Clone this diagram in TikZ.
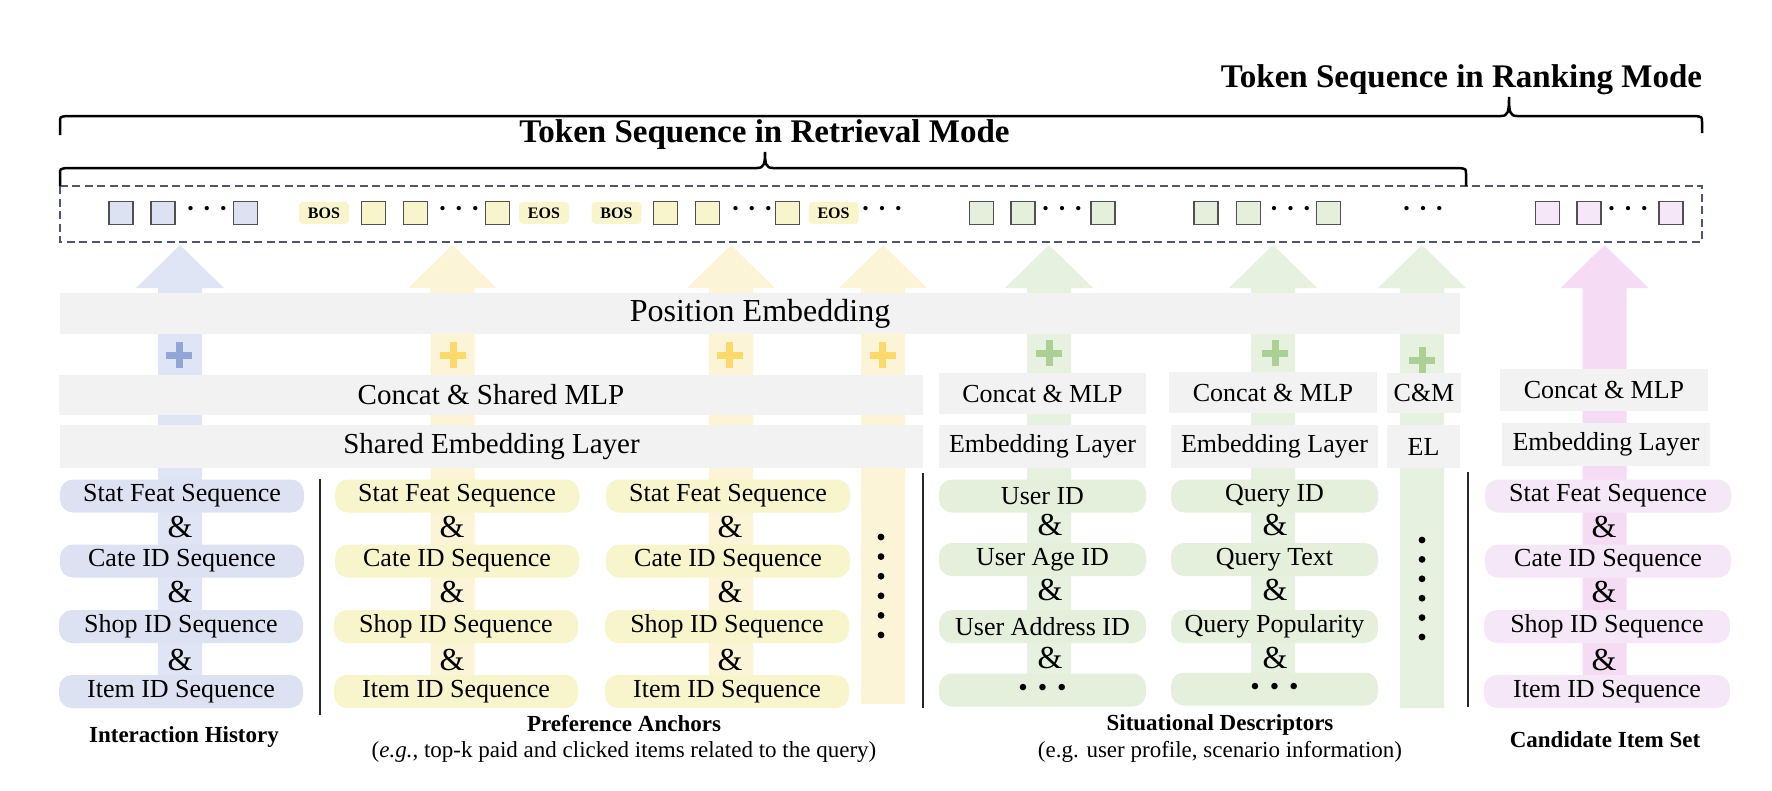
\documentclass[tikz,border=0pt]{standalone}
\usepackage{fontspec}
\setmainfont{Liberation Serif}
\definecolor{bluebox}{HTML}{DCE2F2}
\definecolor{bluearr}{HTML}{DFE5F4}
\definecolor{blueplus}{HTML}{93A6D9}
\definecolor{yelbox}{HTML}{F8F4CC}
\definecolor{yelarr}{HTML}{FBF4D6}
\definecolor{yelplus}{HTML}{FBD96B}
\definecolor{grnbox}{HTML}{E5F0DC}
\definecolor{grnarr}{HTML}{E6F1DF}
\definecolor{grnplus}{HTML}{ACD094}
\definecolor{pnkbox}{HTML}{F6E7F8}
\definecolor{pnkarr}{HTML}{F5DCF4}
\definecolor{graybar}{HTML}{F2F2F2}
\definecolor{dashcol}{HTML}{4E5670}
\definecolor{tokborder}{HTML}{505050}
\newcommand{\myfs}[2]{\fontsize{#1}{#2}\selectfont}
\newcommand{\blockarr}[3]{\fill[#1] (#2-22,#3) -- (#2-22,288) -- (#2-44,288) -- (#2,245) -- (#2+44,288) -- (#2+22,288) -- (#2+22,#3) -- cycle;}
\newcommand{\plussign}[3]{\draw[#1, line width=7] (#2-13,#3) -- (#2+13,#3) (#2,#3-13) -- (#2,#3+13);}
\newcommand{\tokdots}{·\hspace{4.3pt}·\hspace{4.3pt}·}
\newcommand{\boxdots}{•\hspace{10pt}•\hspace{10pt}•}
\begin{document}
\begin{tikzpicture}[x=1pt,y=-1pt,
  bar/.style={fill=graybar, inner sep=0, font=\myfs{29}{32}},
  sbar/.style={fill=graybar, inner sep=0, font=\myfs{26}{30}},
  tok/.style={draw=tokborder, line width=1.3, minimum width=24, minimum height=23, inner sep=0},
  bos/.style={fill=yelbox, rounded corners=4, minimum width=50, minimum height=22, inner sep=0, font=\bfseries\myfs{16}{18}},
  tdots/.style={inner sep=0, font=\myfs{36}{36}},
  inbox/.style={rounded corners=13, inner sep=0, minimum height=33, font=\myfs{26}{30}},
  dotbox/.style={inbox, font=\myfs{27}{30}},
  amp/.style={inner sep=0, font=\myfs{32}{34}},
  titlefont/.style={inner sep=0, font=\bfseries\myfs{33}{36}},
  capb/.style={inner sep=0, font=\bfseries\myfs{23}{26}},
  capr/.style={inner sep=0, font=\myfs{23}{26}},
  bracepath/.style={line width=2.5},
  sep/.style={line width=1.5, draw=black!85}
]
\useasboundingbox (0,0) rectangle (1772,790);

% block arrows (background)
\blockarr{bluearr}{180}{700}
\blockarr{yelarr}{452.5}{700}
\blockarr{yelarr}{731}{700}
\blockarr{yelarr}{883}{704}
\blockarr{grnarr}{1049}{700}
\blockarr{grnarr}{1273}{700}
\blockarr{grnarr}{1422}{708}
\blockarr{pnkarr}{1604.5}{700}

% gray layers
\node[bar, font=\myfs{32}{34}, minimum width=1400, minimum height=41] (pos) at (760,313.5) {Position Embedding};
\node[bar, minimum width=864, minimum height=40] (cmlp) at (491,395) {Concat \& Shared MLP};
\node[bar, minimum width=863, minimum height=43] (semb) at (491.5,446.5) {Shared Embedding Layer};
\node[sbar, minimum width=207, minimum height=41] (cm1) at (1042.5,393.5) {Concat \& MLP};
\node[sbar, minimum width=208, minimum height=41] (cm2) at (1273,392.5) {Concat \& MLP};
\node[sbar, minimum width=74, minimum height=40] (cm3) at (1424,393) {C\&M};
\node[sbar, minimum width=208, minimum height=42] (cm4) at (1604,390) {Concat \& MLP};
\node[sbar, minimum width=207, minimum height=43] (el1) at (1042.5,446.5) {Embedding Layer};
\node[sbar, minimum width=207, minimum height=43] (el2) at (1274.5,446.5) {Embedding Layer};
\node[sbar, minimum width=73, minimum height=43] (el3) at (1423.5,446.5) {EL};
\node[sbar, minimum width=208, minimum height=43] (el4) at (1606,444.5) {Embedding Layer};

% plus signs
\plussign{blueplus}{179}{355}
\plussign{yelplus}{453}{355}
\plussign{yelplus}{729.5}{355}
\plussign{yelplus}{882.5}{355}
\plussign{grnplus}{1049}{353}
\plussign{grnplus}{1275}{353}
\plussign{grnplus}{1422}{360}

% interaction history
\node[inbox, fill=bluebox, minimum width=244] (ih1) at (182,496) {Stat Feat Sequence};
\node[inbox, fill=bluebox, minimum width=244] (ih2) at (182,561) {Cate ID Sequence};
\node[inbox, fill=bluebox, minimum width=244] (ih3) at (181,626.5) {Shop ID Sequence};
\node[inbox, fill=bluebox, minimum width=244] (ih4) at (181,691.5) {Item ID Sequence};
\node[amp] (iha1) at (180,527) {\&};
\node[amp] (iha2) at (180,592) {\&};
\node[amp] (iha3) at (180,660) {\&};

% preference anchors 1
\node[inbox, fill=yelbox, minimum width=244] (pa1) at (457,496) {Stat Feat Sequence};
\node[inbox, fill=yelbox, minimum width=244] (pa2) at (457,561) {Cate ID Sequence};
\node[inbox, fill=yelbox, minimum width=244] (pa3) at (456,626.5) {Shop ID Sequence};
\node[inbox, fill=yelbox, minimum width=244] (pa4) at (456,691.5) {Item ID Sequence};
\node[amp] (paa1) at (452,527) {\&};
\node[amp] (paa2) at (452,592) {\&};
\node[amp] (paa3) at (452,660) {\&};
% preference anchors 2
\node[inbox, fill=yelbox, minimum width=244] (pb1) at (728,496) {Stat Feat Sequence};
\node[inbox, fill=yelbox, minimum width=244] (pb2) at (728,561) {Cate ID Sequence};
\node[inbox, fill=yelbox, minimum width=244] (pb3) at (727,626.5) {Shop ID Sequence};
\node[inbox, fill=yelbox, minimum width=244] (pb4) at (727,691.5) {Item ID Sequence};
\node[amp] (pba1) at (730,527) {\&};
\node[amp] (pba2) at (730,592) {\&};
\node[amp] (pba3) at (730,660) {\&};
\foreach \i in {0,...,5} {\coordinate (pvd\i) at (881,537+19.6*\i); \fill (pvd\i) circle (3.4);}

% situational descriptors
\node[inbox, fill=grnbox, minimum width=207] (sd1) at (1042.5,496) {User ID};
\node[inbox, fill=grnbox, minimum width=207] (sd2) at (1042.5,559.5) {User Age ID};
\node[inbox, fill=grnbox, minimum width=207] (sd3) at (1042.5,626.5) {User Address ID};
\node[dotbox, fill=grnbox, minimum width=207] (sd4) at (1042.5,690) {\boxdots};
\node[amp] (sda1) at (1050,525) {\&};
\node[amp] (sda2) at (1050,590) {\&};
\node[amp] (sda3) at (1050,658) {\&};
\node[inbox, fill=grnbox, minimum width=207] (sq1) at (1274.5,496) {Query ID};
\node[inbox, fill=grnbox, minimum width=207] (sq2) at (1274.5,559.5) {Query Text};
\node[inbox, fill=grnbox, minimum width=207] (sq3) at (1274.5,626.5) {Query Popularity};
\node[dotbox, fill=grnbox, minimum width=207] (sq4) at (1274.5,689) {\boxdots};
\node[amp] (sqa1) at (1275,525) {\&};
\node[amp] (sqa2) at (1275,590) {\&};
\node[amp] (sqa3) at (1275,658) {\&};
\foreach \i in {0,...,5} {\coordinate (gvd\i) at (1422,540+19.4*\i); \fill (gvd\i) circle (3.4);}

% candidate items
\node[inbox, fill=pnkbox, minimum width=246] (ci1) at (1608,496) {Stat Feat Sequence};
\node[inbox, fill=pnkbox, minimum width=246] (ci2) at (1608,561) {Cate ID Sequence};
\node[inbox, fill=pnkbox, minimum width=246] (ci3) at (1607,626.5) {Shop ID Sequence};
\node[inbox, fill=pnkbox, minimum width=246] (ci4) at (1607,691.5) {Item ID Sequence};
\node[amp] (cia1) at (1604,527) {\&};
\node[amp] (cia2) at (1604,592) {\&};
\node[amp] (cia3) at (1604,660) {\&};

% separators
\coordinate (s1t) at (320,479); \coordinate (s1b) at (320,715);
\coordinate (s2t) at (923,473); \coordinate (s2b) at (923,708);
\coordinate (s3t) at (1468,472); \coordinate (s3b) at (1468,707);
\draw[sep] (s1t) -- (s1b);
\draw[sep] (s2t) -- (s2b);
\draw[sep] (s3t) -- (s3b);

% captions
\node[capb, anchor=base] (capIH) at (184,742) {Interaction History};
\node[capb, anchor=base] (capPA) at (624,731) {Preference Anchors};
\node[capr, anchor=base] (capPA2) at (624,757) {(\textit{e.g.}, top-k paid and clicked items related to the query)};
\node[capb, anchor=base] (capSD) at (1220,730) {Situational Descriptors};
\node[capr, anchor=base] (capSD2) at (1220,757) {(e.g. user profile, scenario information)};
\node[capb, anchor=base] (capCI) at (1605,747) {Candidate Item Set};

% token sequence box
\draw[dashcol, line width=1.7, dash pattern=on 8 off 4.5] (60,186) rectangle (1702,241.7);
% tokens
\node[tok, fill=bluebox] (t1) at (121,213) {};
\node[tok, fill=bluebox] (t2) at (163,213) {};
\node[tdots] (td1) at (207,213) {\tokdots};
\node[tok, fill=bluebox] (t3) at (245.5,213) {};
\node[bos] (b1) at (324,213) {BOS};
\node[tok, fill=yelbox] (t4) at (373.5,213) {};
\node[tok, fill=yelbox] (t5) at (415.5,213) {};
\node[tdots] (td2) at (459,213) {\tokdots};
\node[tok, fill=yelbox] (t6) at (497.5,213) {};
\node[bos] (e1) at (544,213) {EOS};
\node[bos] (b2) at (616.5,213) {BOS};
\node[tok, fill=yelbox] (t7) at (665.5,213) {};
\node[tok, fill=yelbox] (t8) at (707.5,213) {};
\node[tdots] (td3) at (752,213) {\tokdots};
\node[tok, fill=yelbox] (t9) at (787.5,213) {};
\node[bos] (e2) at (833.5,213) {EOS};
\node[tdots] (td4) at (882,213) {\tokdots};
\node[tok, fill=grnbox] (t10) at (981.5,213) {};
\node[tok, fill=grnbox] (t11) at (1023,213) {};
\node[tdots] (td5) at (1062,213) {\tokdots};
\node[tok, fill=grnbox] (t12) at (1103,213) {};
\node[tok, fill=grnbox] (t13) at (1206,213) {};
\node[tok, fill=grnbox] (t14) at (1248.5,213) {};
\node[tdots] (td6) at (1290.5,213) {\tokdots};
\node[tok, fill=grnbox] (t15) at (1328.5,213) {};
\node[tdots] (td7) at (1423,213) {\tokdots};
\node[tok, fill=pnkbox] (t16) at (1547.5,213) {};
\node[tok, fill=pnkbox] (t17) at (1589,213) {};
\node[tdots] (td8) at (1628,213) {\tokdots};
\node[tok, fill=pnkbox] (t18) at (1671,213) {};

% braces
\draw[bracepath] (60,135) -- (60,122) .. controls (60,117) .. (66,116) -- (1501,116) .. controls (1508,116) and (1509,112) .. (1509,97) .. controls (1509,112) and (1510,116) .. (1517,116) -- (1696,116) .. controls (1702,117) .. (1702,122) -- (1702,133);
\draw[bracepath] (60,186) -- (60,174) .. controls (60,169) .. (66,168) -- (757,168) .. controls (764,168) and (765,164) .. (765,152) .. controls (765,164) and (766,168) .. (773,168) -- (1460,168) .. controls (1466,169) .. (1466,174) -- (1466,186);

% titles
\node[titlefont, anchor=base] (rankT) at (1461.5,87) {Token Sequence in Ranking Mode};
\node[titlefont, anchor=base] (retrT) at (764.5,142) {Token Sequence in Retrieval Mode};
\end{tikzpicture}
\end{document}
